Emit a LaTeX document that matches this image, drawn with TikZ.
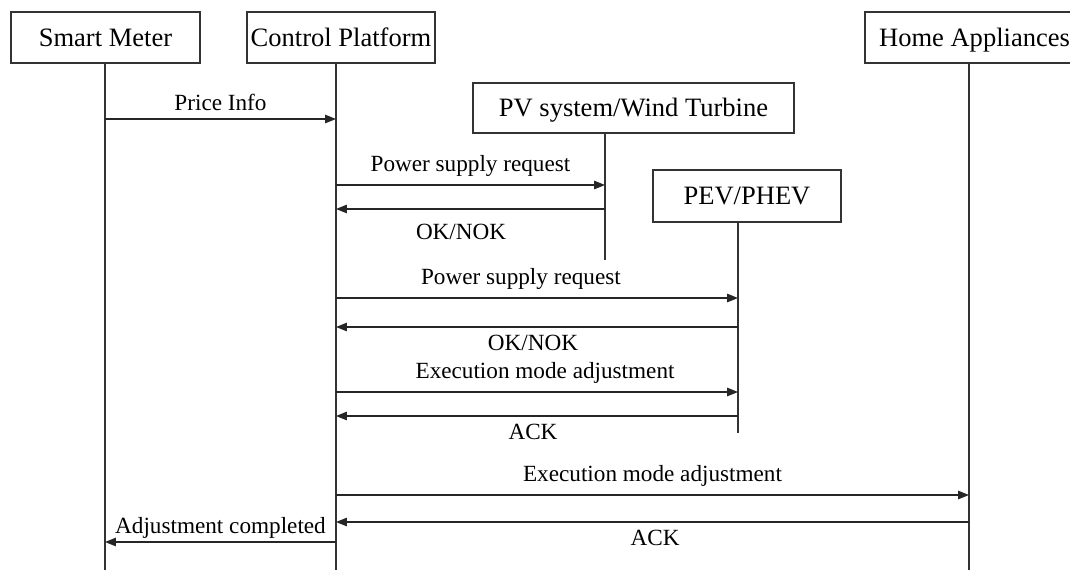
\documentclass[tikz,border=0pt]{standalone}
\usepackage{fontspec}
\setmainfont{Liberation Serif}
\usetikzlibrary{arrows.meta}

\tikzset{
  actor/.style={draw=black!80, line width=0.65pt, inner sep=0pt, text height=10.2pt, text depth=0pt, font=\fontsize{15.1}{18}\selectfont},
  life/.style={draw=black!80, line width=0.65pt},
  msg/.style={draw=black!85, line width=0.7pt, -{Triangle[length=6.2pt,width=4.8pt]}},
  lbl/.style={font=\fontsize{13.2}{16}\selectfont, inner sep=4.4pt}
}

\begin{document}
\begin{tikzpicture}[x=0.02cm, y=-0.02cm]
\useasboundingbox[fill=white] (0,0) rectangle (1070,575);
% actors
\node[actor, minimum width=3.78cm, minimum height=1.02cm] (sm) at (105.5,37.5) {Smart Meter};
\node[actor, minimum width=3.76cm, minimum height=1.02cm] (cp) at (341,37.5) {Control Platform};
\node[actor, minimum width=6.42cm, minimum height=1cm] (pv) at (633.5,108) {PV system/Wind Turbine};
\node[actor, minimum width=3.76cm, minimum height=1.04cm] (pev) at (747,196) {PEV/PHEV};
\node[actor, minimum width=4.38cm, minimum height=1.02cm] (ha) at (974.5,37.5) {Home Appliances};

% lifelines
\foreach \n/\x/\a/\b in {sm/105/63/570, cp/336/63/570, pv/605/133/260, pev/738/222/433, ha/969/63/570} {
  \coordinate (\n-top) at (\x,\a);
  \coordinate (\n-end) at (\x,\b);
  \draw[life] (\n-top) -- (\n-end);
}

% message levels
\foreach \n/\y in {1/119, 2/185, 3/209, 4/298, 5/327, 6/392, 7/416, 8/495, 9/522, 10/542}
  \coordinate (m\n) at (0,\y);

\draw[msg] (sm-top |- m1) -- (cp-top |- m1) node[lbl, above, midway] {Price Info};
\draw[msg] (cp-top |- m2) -- (pv-top |- m2) node[lbl, above, midway] {Power supply request};
\draw[msg] (pv-top |- m3) -- (cp-top |- m3) node[lbl, below, pos=0.535, yshift=-0.13cm] {OK/NOK};
\draw[msg] (cp-top |- m4) -- (pev-top |- m4) node[lbl, above, pos=0.46] {Power supply request};
\draw[msg] (pev-top |- m5) -- (cp-top |- m5) node[lbl, below, pos=0.51] {OK/NOK};
\draw[msg] (cp-top |- m6) -- (pev-top |- m6) node[lbl, above, pos=0.52] {Execution mode adjustment};
\draw[msg] (pev-top |- m7) -- (cp-top |- m7) node[lbl, below, pos=0.51] {ACK};
\draw[msg] (cp-top |- m8) -- (ha-top |- m8) node[lbl, above, midway] {Execution mode adjustment};
\draw[msg] (ha-top |- m9) -- (cp-top |- m9) node[lbl, below, pos=0.496] {ACK};
\draw[msg] (cp-top |- m10) -- (sm-top |- m10) node[lbl, above, midway, yshift=-0.1cm] {Adjustment completed};
\end{tikzpicture}
\end{document}
